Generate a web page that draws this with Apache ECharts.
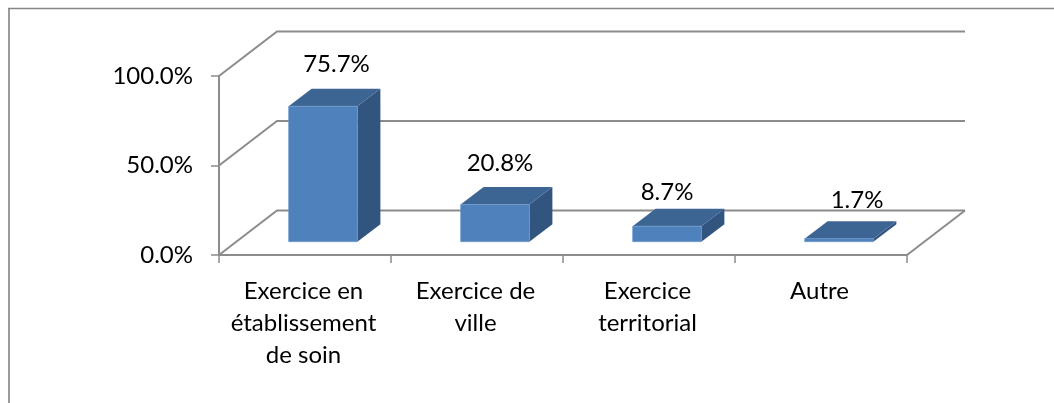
<!DOCTYPE html>
<html>
<head>
<meta charset="utf-8">
<style>html,body{margin:0;padding:0;background:#fff}#c{width:1054px;height:403px}</style>
<script src="https://cdn.jsdelivr.net/npm/echarts@6/dist/echarts.min.js"></script>
</head>
<body>
<div id="c"></div>
<script>
const categories = ['Exercice en\nétablissement\nde soin', 'Exercice de\nville', 'Exercice\nterritorial', 'Autre'];
const values = [75.7, 20.8, 8.7, 1.7];
const gridValues = [0, 50, 100];

const FONT = 'Lato';
const FONT_SIZE = 24;
const GRAY = '#8c8c8c';
const WALL_DX = 58, WALL_DY = 44.5;      // depth of the back wall
const BAR_DX = 23, BAR_DY = 17.5;        // depth of a bar
const BAR_SHIFT_X = 18, BAR_SHIFT_Y = 13.3; // bar position on the floor
const labelNudge = [[13.5, -24], [5, -24], [0, -16], [18, -21]];

const chart = echarts.init(document.getElementById('c'), null, {renderer: 'canvas'});

function renderWall(params, api) {
  const v = api.value(0);
  const cs = params.coordSys;
  const y = api.coord([0, v])[1];
  const x0 = cs.x, x1 = cs.x + cs.width;
  const children = [{
    type: 'polyline',
    shape: {points: [[x0, y], [x0 + WALL_DX, y - WALL_DY], [x1 + WALL_DX, y - WALL_DY]]},
    style: {stroke: GRAY, lineWidth: 2, fill: null}
  }];
  if (v === 0) {
    children.push({
      type: 'line',
      shape: {x1: x1, y1: y, x2: x1 + WALL_DX, y2: y - WALL_DY},
      style: {stroke: GRAY, lineWidth: 2}
    });
  }
  return {type: 'group', children};
}

function renderBar(params, api) {
  const i = api.value(0), v = api.value(1);
  const top = api.coord([i, v]);
  const base = api.coord([i, 0]);
  const w = api.size([1, 0])[0] * 0.4;
  const l = top[0] + BAR_SHIFT_X - w / 2, r = l + w;
  const t = top[1] - BAR_SHIFT_Y, b = base[1] - BAR_SHIFT_Y;
  const nudge = labelNudge[i];
  return {type: 'group', children: [
    {type: 'polygon', shape: {points: [[r, t], [r + BAR_DX, t - BAR_DY], [r + BAR_DX, b - BAR_DY], [r, b]]},
      style: {fill: '#325580'}},
    {type: 'polygon', shape: {points: [[l, t], [l + BAR_DX, t - BAR_DY], [r + BAR_DX, t - BAR_DY], [r, t]]},
      style: {fill: '#3d6594'}},
    {type: 'rect', shape: {x: l, y: t, width: w, height: b - t},
      style: {fill: '#4f81bd', stroke: '#6f9ad0', lineWidth: 0.6}},
    {type: 'text', style: {
      x: (l + r) / 2 + nudge[0], y: t - BAR_DY + nudge[1],
      text: v.toFixed(1) + '%', font: FONT_SIZE + 'px ' + FONT, fill: '#000',
      align: 'center', verticalAlign: 'middle'
    }}
  ]};
}

chart.setOption({
  animation: false,
  backgroundColor: '#fff',
  grid: {left: 219, width: 688, top: 76, height: 179},
  graphic: [
    {type: 'line', silent: true, shape: {x1: 9, y1: 8, x2: 9, y2: 403}, style: {stroke: '#9a9a9a', lineWidth: 2}},
    {type: 'line', silent: true, shape: {x1: 8, y1: 8.5, x2: 1054, y2: 8.5}, style: {stroke: '#868686', lineWidth: 1.5}}
  ],
  xAxis: {
    type: 'category',
    data: categories,
    axisLine: {lineStyle: {color: GRAY, width: 2}},
    axisTick: {show: true, length: 8, alignWithLabel: false, lineStyle: {color: GRAY, width: 1.5}},
    axisLabel: {interval: 0, margin: 20, color: '#000', fontFamily: FONT, fontSize: FONT_SIZE, lineHeight: 32,
      padding: [0, 3, 0, 0]},
    splitLine: {show: false}
  },
  yAxis: {
    type: 'value',
    min: 0, max: 100, interval: 50,
    axisLine: {show: true, lineStyle: {color: GRAY, width: 2}},
    axisTick: {show: true, length: 8, lineStyle: {color: GRAY, width: 1.5}},
    axisLabel: {margin: 26, color: '#000', fontFamily: FONT, fontSize: FONT_SIZE,
      padding: [3, 0, 0, 0],
      formatter: v => v.toFixed(1) + '%'},
    splitLine: {show: false}
  },
  series: [
    {type: 'custom', silent: true, clip: false, z: 1, renderItem: renderWall,
      coordinateSystem: 'cartesian2d', encode: {y: 0}, data: gridValues.map(v => [v])},
    {type: 'custom', silent: true, clip: false, z: 3, renderItem: renderBar,
      coordinateSystem: 'cartesian2d', encode: {x: 0, y: 1}, data: values.map((v, i) => [i, v])}
  ]
});
</script>
</body>
</html>
